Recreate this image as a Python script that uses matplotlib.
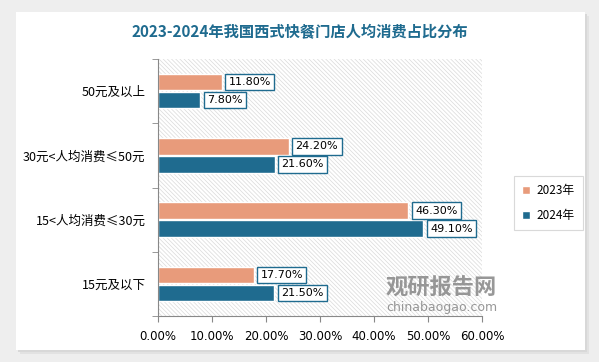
import matplotlib.pyplot as plt
import numpy as np
from matplotlib.patches import Rectangle
from matplotlib.ticker import PercentFormatter, FixedLocator

plt.rcParams['font.family'] = ['Noto Sans CJK SC', 'DejaVu Sans']
plt.rcParams['hatch.linewidth'] = 0.5

# data (top to bottom as shown)
categories = ['50元及以上', '30元<人均消费≤50元', '15<人均消费≤30元', '15元及以下']
values_2023 = [11.8, 24.2, 46.3, 17.7]
values_2024 = [7.8, 21.6, 49.1, 21.5]
series_names = ['2023年', '2024年']

c2023 = '#E89B7B'
c2024 = '#1F6B8F'

fig = plt.figure(figsize=(5.99, 3.62), dpi=100, facecolor='#EEEEEE')

# white card with soft shadow
W, H = 599, 362
for off, col in [(4, '#E2E2E2'), (2, '#D8D8D8')]:
    fig.patches.append(Rectangle(((16 + off) / W, 1 - (350 + off) / H), 569 / W, 338 / H,
                                 transform=fig.transFigure, facecolor=col, edgecolor='none', zorder=-3))
fig.patches.append(Rectangle((16 / W, 1 - 350 / H), 569 / W, 338 / H,
                             transform=fig.transFigure, facecolor='white', edgecolor='none', zorder=-2))

ax = fig.add_axes([158 / W, 1 - 316 / H, 324 / W, 257 / H])
ax.set_facecolor('none')

# hatched plot background
ax.add_patch(Rectangle((0, 0), 1, 1, transform=ax.transAxes, facecolor='white',
                       edgecolor='#DADADA', hatch='\\' * 8, linewidth=0, zorder=0))

y = np.arange(len(categories))
h = 0.26
b1 = ax.barh(y - h / 2 - 0.01, values_2023, h, color=c2023, edgecolor='white', linewidth=1, label=series_names[0], zorder=2)
b2 = ax.barh(y + h / 2 + 0.01, values_2024, h, color=c2024, edgecolor='white', linewidth=1, label=series_names[1], zorder=2)

box = dict(boxstyle='square,pad=0.3', facecolor='white', edgecolor=c2024, linewidth=1.0)
for bars, vals in [(b1, values_2023), (b2, values_2024)]:
    for rect, v in zip(bars, vals):
        ax.annotate(f'{v:.2f}%', (v, rect.get_y() + rect.get_height() / 2),
                    xytext=(5, 0), textcoords='offset points', ha='left', va='center',
                    fontsize=8, family=['DejaVu Sans'], bbox=box, zorder=5)

ax.set_xlim(0, 60)
ax.set_ylim(len(categories) - 0.5, -0.5)
ax.xaxis.set_major_formatter(PercentFormatter(decimals=2))
ax.set_xticks(np.arange(0, 61, 10))
ax.set_yticks(y)
ax.set_yticklabels(categories)
ax.yaxis.set_minor_locator(FixedLocator(np.arange(-0.5, len(categories), 1)))
ax.tick_params(axis='y', which='major', length=0, labelsize=9, pad=9)
ax.tick_params(axis='y', which='minor', length=4, color='#888888')
ax.tick_params(axis='x', length=4, color='#888888', labelsize=8.5, pad=6)
for lab in ax.get_xticklabels():
    lab.set_family(['DejaVu Sans'])

for s in ['top', 'right']:
    ax.spines[s].set_visible(False)
for s in ['left', 'bottom']:
    ax.spines[s].set_color('#888888')
    ax.spines[s].set_linewidth(0.8)

leg = ax.legend(loc='center left', bbox_to_anchor=(1.08, 0.44), frameon=True, fontsize=8.5,
                handlelength=0.7, handleheight=0.7, handletextpad=0.5, labelspacing=1.0,
                borderpad=0.7, fancybox=False)
leg.get_frame().set_edgecolor('#D0D0D0')
leg.get_frame().set_linewidth(0.8)

fig.text(0.5, 1 - 32 / H, '2023-2024年我国西式快餐门店人均消费占比分布', ha='center', va='center',
         fontsize=11, fontweight='bold', color=c2024)

# watermark
fig.text(497 / W, 1 - 288 / H, '观研报告网', ha='right', va='center', fontsize=16,
         fontweight='bold', color='#7F7F7F', alpha=0.8, zorder=6)
fig.text(497 / W, 1 - 307 / H, 'chinabaogao.com', ha='right', va='center', fontsize=9,
         color='#7F7F7F', alpha=0.8, family=['DejaVu Sans'], zorder=6)

fig.savefig('out.png', dpi=100, facecolor=fig.get_facecolor())
